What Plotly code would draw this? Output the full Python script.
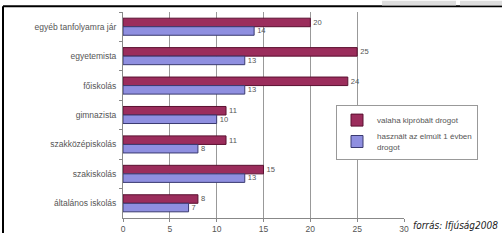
import plotly.graph_objects as go

categories = ["egyéb tanfolyamra jár", "egyetemista", "főiskolás", "gimnazista",
              "szakközépiskolás", "szakiskolás", "általános iskolás"]
ever_tried = [20, 25, 24, 11, 11, 15, 8]
last_year = [14, 13, 13, 10, 8, 13, 7]
series_names = ["valaha kipróbált drogot", "használt az elmúlt 1 évben<br>drogot"]
x_ticks = [0, 5, 10, 15, 20, 25, 30]

W, H = 502, 246
L, R, T, B = 123, 98, 12, 16
pw, ph = W - L - R, H - T - B

def px(x):
    return (x - L) / pw

def py(y):
    return (H - B - y) / ph

fig = go.Figure()
fig.add_trace(go.Bar(y=categories, x=ever_tried, orientation="h", name=series_names[0],
                     marker=dict(color="#9b2d5c", line=dict(color="#5a1030", width=1)),
                     text=ever_tried, textposition="outside",
                     textfont=dict(size=8, color="#555"), cliponaxis=False))
fig.add_trace(go.Bar(y=categories, x=last_year, orientation="h", name=series_names[1],
                     marker=dict(color="#8f8fe0", line=dict(color="#3a3a70", width=1)),
                     text=last_year, textposition="outside",
                     textfont=dict(size=8, color="#555"), cliponaxis=False))

fig.update_layout(
    width=W, height=H, margin=dict(l=L, r=R, t=T, b=B),
    paper_bgcolor="white", plot_bgcolor="white",
    barmode="group", bargap=0.42, bargroupgap=0.0,
    font=dict(family="Arial, Liberation Sans", size=8, color="#555"),
    showlegend=True,
    legend=dict(x=px(336), y=py(110), xanchor="left", yanchor="top",
                bgcolor="white", bordercolor="#999", borderwidth=1,
                font=dict(size=8, color="#555"), tracegroupgap=8,
                itemwidth=30),
    xaxis=dict(range=[0, 30], tickvals=x_ticks, showgrid=True, gridcolor="#999",
               gridwidth=1, zeroline=False, showline=True, linecolor="#888",
               ticks="outside", ticklen=3, tickcolor="#888",
               tickfont=dict(size=8.5, color="#555")),
    yaxis=dict(autorange="reversed", showline=True, linecolor="#888",
               ticks="outside", tickson="boundaries", ticklen=3, tickcolor="#888",
               tickfont=dict(size=8.5, color="#555"), ticklabelstandoff=4),
    shapes=[
        dict(type="line", xref="paper", yref="paper", x0=px(3), x1=px(3), y0=py(6), y1=py(246),
             line=dict(color="black", width=2)),
        dict(type="line", xref="paper", yref="paper", x0=px(3), x1=px(502), y0=py(6), y1=py(6),
             line=dict(color="black", width=2)),
        dict(type="rect", xref="paper", yref="paper", x0=px(382), x1=px(456), y0=py(0), y1=py(5),
             fillcolor="#ddd", line=dict(width=0)),
        dict(type="rect", xref="paper", yref="paper", x0=px(460), x1=px(502), y0=py(0), y1=py(5),
             fillcolor="#ddd", line=dict(width=0)),
    ],
    annotations=[
        dict(text="forrás: Ifjúság2008", xref="paper", yref="paper", x=px(500), y=py(238),
             xanchor="right", yanchor="middle", showarrow=False,
             font=dict(family="DejaVu Sans Condensed, Liberation Sans Narrow, Liberation Sans",
                       size=10, color="#222", style="italic")),
    ],
)

fig.write_html("out.html", config={"displayModeBar": False},
               post_script="document.body.style.margin='0';document.body.style.overflow='hidden';")
